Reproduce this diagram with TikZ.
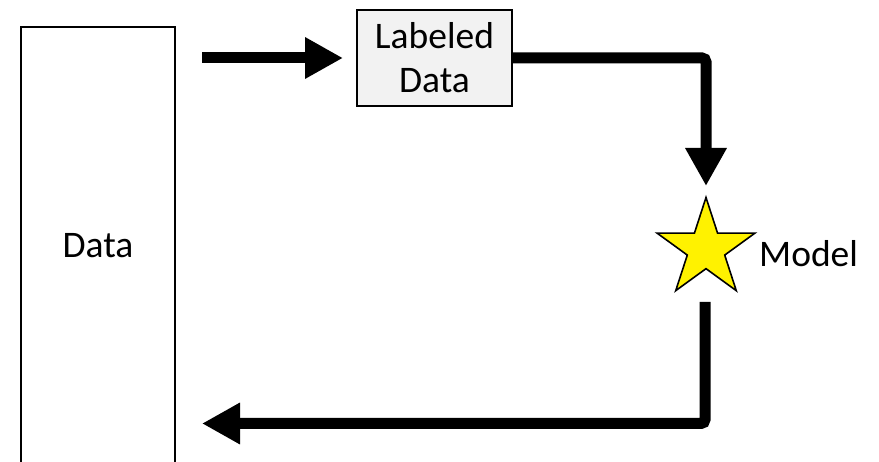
\documentclass[tikz,border=0pt]{standalone}
\usepackage{fontspec}
\setmainfont{Carlito}
\usetikzlibrary{arrows.meta,shapes.geometric,calc}
\begin{document}
\begin{tikzpicture}[x=1pt,y=-1pt,
  lbl/.style={font=\fontsize{37.5}{44}\selectfont, text=black},
  box/.style={draw=black, line width=1.6pt, inner sep=0pt, outer sep=0pt, lbl, align=center},
  flow/.style={line width=11pt, rounded corners=4pt, -{Triangle[length=38pt,width=39pt]}}
]
\useasboundingbox (0,0) rectangle (879,462);
\fill[white] (0,0) rectangle (879,462);
\node[box, minimum width=154pt, minimum height=438pt] (data) at (98,246) {Data};
\node[box, fill=black!5, minimum width=155pt, minimum height=96pt] (labeled) at (434.5,58) {Labeled\\Data};
\node[star, star points=5, star point ratio=2.618, minimum size=103pt, inner sep=0pt, outer sep=0pt,
      draw=black, line width=1.6pt, fill=yellow] (star) at (706,249) {};
\node[lbl, anchor=west, inner sep=0pt] (model) at (759,254) {Model};
\coordinate (a1s) at ($(data.east |- labeled.west)+(27,0)$);
\draw[flow] (a1s) -- ($(labeled.west)+(-14,0)$);
\draw[flow] (labeled.east) -| ($(star.center)+(0,-63)$);
\coordinate (a3s) at ($(star.center)+(-1,53)$);
\coordinate (a3c) at ($(star.center)+(-1,174.5)$);
\draw[flow] (a3s) -- (a3c) -- (a3c -| a1s);
\end{tikzpicture}
\end{document}
